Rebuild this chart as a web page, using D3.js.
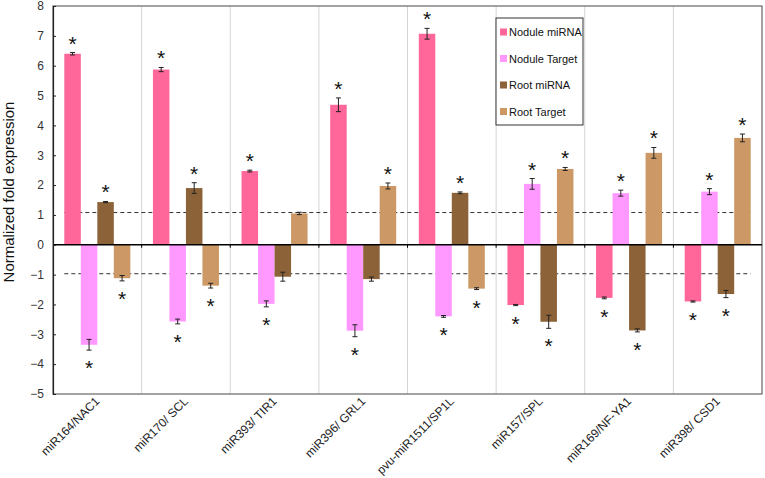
<!DOCTYPE html>
<html>
<head>
<meta charset="utf-8">
<script src="https://cdn.jsdelivr.net/npm/d3@7"></script>
<style>
  body { margin: 0; background: #fff; }
  text { font-family: Arial, "Liberation Sans", sans-serif; }
</style>
</head>
<body>
<svg width="765" height="478"></svg>
<script>
// categories (miRNA / target pairs)
const categories = ['miR164/NAC1', 'miR170/ SCL', 'miR393/ TIR1', 'miR396/ GRL1',
  'pvu-miR1511/SP1L', 'miR157/SPL', 'miR169/NF-YA1', 'miR398/ CSD1']
const seriesNames = ['Nodule miRNA', 'Nodule Target', 'Root miRNA', 'Root Target']
const seriesColors = ['#ff6699', '#ff99ff', '#8c6239', '#cc9966']

// fold expression values per series
const noduleMiRNA = [6.4, 5.87, 2.47, 4.69, 7.07, -2.02, -1.78, -1.9]
const noduleTarget = [-3.35, -2.57, -1.98, -2.88, -2.4, 2.04, 1.73, 1.78]
const rootMiRNA = [1.43, 1.9, -1.07, -1.15, 1.74, -2.58, -2.87, -1.65]
const rootTarget = [-1.12, -1.37, 1.05, 1.97, -1.47, 2.54, 3.08, 3.58]

// error bar half-widths
const noduleMiRNAErr = [0.04, 0.07, 0.03, 0.23, 0.18, 0.02, 0.03, 0.02]
const noduleTargetErr = [0.18, 0.08, 0.1, 0.2, 0.03, 0.18, 0.1, 0.1]
const rootMiRNAErr = [0.02, 0.18, 0.15, 0.07, 0.03, 0.22, 0.05, 0.12]
const rootTargetErr = [0.09, 0.08, 0.04, 0.1, 0.03, 0.05, 0.18, 0.13]

// significance (asterisk) flags
const noduleMiRNASig = [1, 1, 1, 1, 1, 1, 1, 1]
const noduleTargetSig = [1, 1, 1, 1, 1, 1, 1, 1]
const rootMiRNASig = [1, 1, 0, 0, 1, 1, 1, 1]
const rootTargetSig = [1, 1, 0, 1, 1, 1, 1, 1]

const yTicks = [-5, -4, -3, -2, -1, 0, 1, 2, 3, 4, 5, 6, 7, 8]
const thresholds = [1.08, -0.97]

const values = [noduleMiRNA, noduleTarget, rootMiRNA, rootTarget]
const errors = [noduleMiRNAErr, noduleTargetErr, rootMiRNAErr, rootTargetErr]
const sigs = [noduleMiRNASig, noduleTargetSig, rootMiRNASig, rootTargetSig]

const data = []
categories.forEach((c, i) => {
  seriesNames.forEach((s, j) => {
    data.push({ cat: c, series: s, value: values[j][i], err: errors[j][i], sig: sigs[j][i] })
  })
})

const svg = d3.select('svg')
const plotLeft = 53, plotRight = 762, plotTop = 6, plotBottom = 394

const x = d3.scaleBand().domain(categories).range([plotLeft, plotRight]).padding(0)
const x1 = d3.scaleBand().domain(seriesNames).range([0, x.bandwidth()]).paddingInner(0).paddingOuter(0.685)
const y = d3.scaleLinear().domain([-5, 8]).range([plotBottom, plotTop])
const color = d3.scaleOrdinal().domain(seriesNames).range(seriesColors)

// vertical grid lines between categories
svg.append('g')
  .selectAll('line')
  .data(categories.slice(1))
  .join('line')
  .attr('x1', (d) => x(d)).attr('x2', (d) => x(d))
  .attr('y1', plotTop).attr('y2', plotBottom)
  .style('stroke', '#d4d4d4').style('stroke-width', 1)

// plot frame
svg.append('rect')
  .attr('x', plotLeft).attr('y', plotTop)
  .attr('width', plotRight - plotLeft).attr('height', plotBottom - plotTop)
  .style('fill', 'none').style('stroke', '#666').style('stroke-width', 1.2)

// dashed threshold lines
svg.append('g')
  .selectAll('line')
  .data(thresholds)
  .join('line')
  .attr('x1', x(categories[0]) + x1(seriesNames[0]))
  .attr('x2', x(categories[categories.length - 1]) + x1(seriesNames[3]) + x1.bandwidth())
  .attr('y1', (d) => y(d)).attr('y2', (d) => y(d))
  .style('stroke', '#333').style('stroke-width', 1).style('stroke-dasharray', '4,3')

// bars
svg.append('g')
  .selectAll('rect')
  .data(data)
  .join('rect')
  .attr('x', (d) => x(d.cat) + x1(d.series))
  .attr('width', x1.bandwidth())
  .attr('y', (d) => y(Math.max(0, d.value)))
  .attr('height', (d) => Math.abs(y(d.value) - y(0)))
  .style('fill', (d) => color(d.series))

// error bars
const eb = svg.append('g').style('stroke', '#222').style('stroke-width', 1)
data.forEach((d) => {
  const cx = x(d.cat) + x1(d.series) + x1.bandwidth() / 2
  const ya = y(d.value - d.err), yb = y(d.value + d.err)
  eb.append('line').attr('x1', cx).attr('x2', cx).attr('y1', ya).attr('y2', yb)
  eb.append('line').attr('x1', cx - 2.5).attr('x2', cx + 2.5).attr('y1', ya).attr('y2', ya)
  eb.append('line').attr('x1', cx - 2.5).attr('x2', cx + 2.5).attr('y1', yb).attr('y2', yb)
})

// asterisks
svg.append('g')
  .selectAll('text')
  .data(data.filter((d) => d.sig))
  .join('text')
  .attr('x', (d) => x(d.cat) + x1(d.series) + x1.bandwidth() / 2)
  .attr('y', (d) => d.value > 0 ? y(d.value + d.err) - 2 : y(d.value - d.err) + 25)
  .attr('text-anchor', 'middle')
  .style('font-size', '21px')
  .style('fill', '#111')
  .text('*')

// zero line with ticks
svg.append('line')
  .attr('x1', plotLeft).attr('x2', plotRight)
  .attr('y1', y(0)).attr('y2', y(0))
  .style('stroke', '#000').style('stroke-width', 1.5)
svg.append('g')
  .selectAll('line')
  .data(categories.slice(1))
  .join('line')
  .attr('x1', (d) => x(d)).attr('x2', (d) => x(d))
  .attr('y1', y(0)).attr('y2', y(0) + 3)
  .style('stroke', '#000')

// y axis
const yAxis = svg.append('g')
  .attr('transform', `translate(${plotLeft},0)`)
  .call(d3.axisLeft(y).tickValues(yTicks).tickSize(-3).tickPadding(9))
yAxis.select('.domain').style('stroke', '#222').style('stroke-width', 1.2)
yAxis.selectAll('.tick line').style('stroke', '#222')
yAxis.selectAll('.tick text').style('font-size', '12px').style('fill', '#333')
  .style('font-family', 'Arial, "Liberation Sans", sans-serif')

// y label
svg.append('text')
  .attr('transform', 'translate(14,192) rotate(-90)')
  .attr('text-anchor', 'middle')
  .style('font-size', '15px')
  .style('fill', '#111')
  .text('Normalized fold expression')

// x category labels
svg.append('g')
  .selectAll('text')
  .data(categories)
  .join('text')
  .attr('transform', (d) => `translate(${x(d) + x.bandwidth() / 2 + 3},${plotBottom + 8}) rotate(-45)`)
  .attr('text-anchor', 'end')
  .style('font-size', '12px')
  .style('fill', '#222')
  .text((d) => d)

// legend
const legend = svg.append('g').attr('transform', 'translate(496,18)')
legend.append('rect')
  .attr('width', 87).attr('height', 107)
  .style('fill', '#fff').style('stroke', '#333').style('stroke-width', 1)
const item = legend.selectAll('.item')
  .data(seriesNames)
  .join('g')
  .attr('class', 'item')
  .attr('transform', (d, i) => `translate(4,${14 + i * 26.5})`)
item.append('rect')
  .attr('x', 0).attr('y', -3.5).attr('width', 7).attr('height', 7)
  .style('fill', (d) => color(d))
item.append('text')
  .attr('x', 9).attr('dy', 4)
  .style('font-size', '11px')
  .style('fill', '#111')
  .text((d) => d)
</script>
</body>
</html>
